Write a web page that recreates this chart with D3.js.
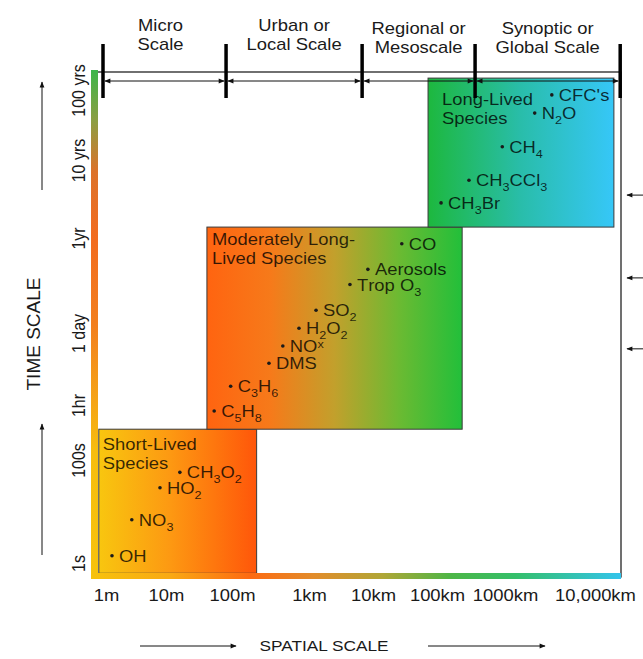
<!DOCTYPE html>
<html>
<head>
<meta charset="utf-8">
<script src="https://cdn.jsdelivr.net/npm/d3@7"></script>
<style>
  body { margin: 0; background: #fff; }
  text { font-family: "Liberation Sans", Arial, sans-serif; }
</style>
</head>
<body>
<svg id="chart" width="643" height="659"></svg>
<script>
// spatial scale in log10(metres), time scale in tick steps
var spaceTicks = ["1m", "10m", "100m", "1km", "10km", "100km", "1000km", "10,000km"];
var timeTicks = ["1s", "100s", "1hr", "1 day", "1yr", "10 yrs", "100 yrs"];

var scaleBands = [
  { name: ["Micro", "Scale"], from: -0.05, to: 1.91 },
  { name: ["Urban or", "Local Scale"], from: 1.91, to: 3.83 },
  { name: ["Regional or", "Mesoscale"], from: 3.83, to: 5.56 },
  { name: ["Synoptic or", "Global Scale"], from: 5.56, to: 7.28 }
];

var groups = [
  { key: "short", title: ["Short-Lived", "Species"], x0: -0.12, x1: 2.32, y0: -0.1, y1: 1.56 },
  { key: "moderate", title: ["Moderately Long-", "Lived Species"], x0: 1.62, x1: 5.37, y0: 1.56, y1: 4.14 },
  { key: "long", title: ["Long-Lived", "Species"], x0: 4.86, x1: 7.21, y0: 4.14, y1: 6.17 }
];

// "_" = subscript, "^" = raised
var species = [
  { label: "OH", x: 0.1, y: 0.07 },
  { label: "NO_3", x: 0.43, y: 0.42 },
  { label: "HO_2", x: 0.9, y: 0.73 },
  { label: "CH_3O_2", x: 1.21, y: 0.88 },
  { label: "C_5H_8", x: 1.73, y: 1.89 },
  { label: "C_3H_6", x: 1.98, y: 2.26 },
  { label: "DMS", x: 2.48, y: 2.58 },
  { label: "NO^x", x: 2.66, y: 2.82 },
  { label: "H_2O_2", x: 2.87, y: 3.05 },
  { label: "SO_2", x: 3.11, y: 3.24 },
  { label: "Trop O_3", x: 3.64, y: 3.51 },
  { label: "Aerosols", x: 3.92, y: 3.67 },
  { label: "CO", x: 4.45, y: 3.94 },
  { label: "CH_3Br", x: 5.06, y: 4.45 },
  { label: "CH_3CCl_3", x: 5.47, y: 4.74 },
  { label: "CH_4", x: 5.96, y: 5.19 },
  { label: "N_2O", x: 6.33, y: 5.67 },
  { label: "CFC's", x: 6.52, y: 5.93 }
];

var sideArrows = [4.55, 3.58, 2.78];

// ---- layout ----
var svg = d3.select("#chart");
var stretch = 1.15;
var frame = { left: 96, right: 621, top: 72, bottom: 577 };
var xStops = [106, 166, 232, 309, 373, 437, 505, 595];
var yStops = [563, 460, 405, 333, 238, 160, 90];

var x = d3.scaleLinear().domain(d3.range(spaceTicks.length)).range(xStops);
var y = d3.scaleLinear().domain(d3.range(timeTicks.length)).range(yStops);

var groupColors = {
  short: [[0, "#f8c60f"], [0.45, "#fd9912"], [1, "#ff560a"]],
  moderate: [[0, "#ff6410"], [0.25, "#f67a1a"], [0.5, "#c2a02c"], [0.75, "#6cba32"], [1, "#22bf3a"]],
  long: [[0, "#1db83e"], [0.5, "#29bdaa"], [1, "#36c7f8"]]
};
var titlePad = { short: [4, 21], moderate: [5, 18], long: [14, 27] };

var defs = svg.append("defs");

function addGradient(id, stops, vertical) {
  var g = defs.append("linearGradient").attr("id", id)
    .attr("x1", 0).attr("y1", 0)
    .attr("x2", vertical ? 0 : 1).attr("y2", vertical ? 1 : 0);
  stops.forEach(function(s) {
    g.append("stop").attr("offset", s[0]).attr("stop-color", s[1]);
  });
}

groups.forEach(function(d) { addGradient("grad-" + d.key, groupColors[d.key], false); });
addGradient("grad-left", [[0, "#3db54a"], [0.1, "#8c9e42"], [0.2, "#dc722a"], [0.33, "#f26c1f"],
  [0.5, "#f27f1e"], [0.65, "#f5a417"], [0.75, "#f6bd0e"], [1, "#f7c20c"]], true);
addGradient("grad-bottom", [[0, "#f7c20c"], [0.15, "#f9a914"], [0.3, "#fd6a12"], [0.42, "#e28c2a"],
  [0.55, "#b0a636"], [0.68, "#4cb646"], [0.8, "#34bf6a"], [1, "#33c4ec"]], false);

defs.append("marker").attr("id", "head")
  .attr("viewBox", "0 0 10 10").attr("refX", 9).attr("refY", 5)
  .attr("markerWidth", 7).attr("markerHeight", 6)
  .attr("markerUnits", "userSpaceOnUse")
  .attr("orient", "auto-start-reverse")
  .append("path").attr("d", "M0,1 L10,5 L0,9 Z").attr("fill", "#111");

// text with the wide look of the original
function wideText(parent, px, py, str, size) {
  return parent.append("text")
    .attr("transform", "translate(" + px + "," + py + ") scale(" + stretch + ",1)")
    .attr("font-size", size)
    .text(str);
}

function chemText(parent, px, py, str) {
  var t = parent.append("text")
    .attr("transform", "translate(" + px + "," + py + ") scale(" + stretch + ",1)")
    .attr("font-size", 16)
    .attr("fill", "#000")
    .attr("fill-opacity", 0.78);
  var level = 0;
  for (var i = 0; i < str.length; i++) {
    var ch = str[i], kind = 0;
    if (ch === "_" || ch === "^") {
      kind = ch === "_" ? 5 : -4;
      i++;
      ch = str[i];
    }
    t.append("tspan")
      .attr("dy", kind - level)
      .attr("font-size", kind ? 11 : 16)
      .text(ch);
    level = kind;
  }
  return t;
}

// plot frame
svg.append("rect")
  .attr("x", frame.left).attr("y", frame.top)
  .attr("width", frame.right - frame.left)
  .attr("height", frame.bottom - frame.top)
  .attr("fill", "#fff").attr("stroke", "#111").attr("stroke-width", 1.2);

// species group boxes
var box = svg.selectAll(".group").data(groups).enter()
  .append("g").attr("class", "group");

box.append("rect")
  .attr("x", function(d) { return x(d.x0); })
  .attr("y", function(d) { return y(d.y1); })
  .attr("width", function(d) { return x(d.x1) - x(d.x0); })
  .attr("height", function(d) { return y(d.y0) - y(d.y1); })
  .attr("fill", function(d) { return "url(#grad-" + d.key + ")"; })
  .attr("stroke", "#3a3a3a").attr("stroke-width", 1);

box.each(function(d) {
  var g = d3.select(this);
  var pad = titlePad[d.key];
  d.title.forEach(function(line, i) {
    wideText(g, x(d.x0) + pad[0], y(d.y1) + pad[1] + i * 19, line, 16)
      .attr("fill", "#000").attr("fill-opacity", 0.78);
  });
});

// species dots and names
var sp = svg.selectAll(".species").data(species).enter()
  .append("g").attr("class", "species");

sp.append("circle")
  .attr("cx", function(d) { return x(d.x); })
  .attr("cy", function(d) { return y(d.y); })
  .attr("r", 1.8)
  .attr("fill", "#1a1a1a");

sp.each(function(d) {
  chemText(d3.select(this), x(d.x) + 7, y(d.y) + 6, d.label);
});

// colour bars along the left and bottom edges
svg.append("rect")
  .attr("x", 91).attr("y", frame.top - 2)
  .attr("width", 7).attr("height", frame.bottom - frame.top + 4)
  .attr("fill", "url(#grad-left)");

svg.append("rect")
  .attr("x", 91).attr("y", frame.bottom - 4)
  .attr("width", frame.right - 91).attr("height", 6)
  .attr("fill", "url(#grad-bottom)");

// spatial scale bands along the top
var bandTicks = [scaleBands[0].from].concat(scaleBands.map(function(d) { return d.to; }));

svg.selectAll(".band-tick").data(bandTicks).enter()
  .append("line").attr("class", "band-tick")
  .attr("x1", function(d) { return x(d); })
  .attr("x2", function(d) { return x(d); })
  .attr("y1", 44).attr("y2", 98)
  .attr("stroke", "#000").attr("stroke-width", 3.5);

svg.selectAll(".band-arrow").data(scaleBands).enter()
  .append("line").attr("class", "band-arrow")
  .attr("x1", function(d) { return x(d.from) + 2; })
  .attr("x2", function(d) { return x(d.to) - 2; })
  .attr("y1", 81).attr("y2", 81)
  .attr("stroke", "#111").attr("stroke-width", 1)
  .attr("marker-start", "url(#head)")
  .attr("marker-end", "url(#head)");

scaleBands.forEach(function(d, i) {
  var cx = (x(d.from) + x(d.to)) / 2 - (i === 0 ? 4 : 0);
  var drop = i > 1 ? 3 : 0;
  d.name.forEach(function(line, j) {
    wideText(svg, cx, 31 + drop + j * 19, line, 16)
      .attr("text-anchor", "middle").attr("fill", "#1a1a1a");
  });
});

// axes
var xAxis = d3.axisBottom(x)
  .tickValues(d3.range(spaceTicks.length))
  .tickFormat(function(i) { return spaceTicks[i]; })
  .tickSize(0).tickPadding(0);

var gx = svg.append("g").attr("transform", "translate(0,601)").call(xAxis);
gx.select(".domain").remove();
gx.selectAll("text")
  .attr("y", 0).attr("dy", 0)
  .attr("font-size", 16).attr("fill", "#1a1a1a")
  .attr("font-family", "Liberation Sans, Arial, sans-serif")
  .attr("transform", "scale(" + stretch + ",1)");

var yAxis = d3.axisLeft(y)
  .tickValues(d3.range(timeTicks.length))
  .tickFormat(function(i) { return timeTicks[i]; })
  .tickSize(0);

var gy = svg.append("g").attr("transform", "translate(85,0)").call(yAxis);
gy.select(".domain").remove();
gy.selectAll("text")
  .attr("x", 0).attr("y", 0).attr("dy", 0)
  .attr("text-anchor", "middle")
  .attr("font-size", 16).attr("fill", "#1a1a1a")
  .attr("font-family", "Liberation Sans, Arial, sans-serif")
  .attr("transform", "scale(" + stretch + ",1) rotate(-90)");

// axis titles and their arrows
wideText(svg, 324, 651, "SPATIAL SCALE", 15).attr("text-anchor", "middle").attr("fill", "#1a1a1a");
svg.append("text")
  .attr("transform", "translate(40,334) rotate(-90)")
  .attr("text-anchor", "middle").attr("font-size", 19).attr("fill", "#1a1a1a")
  .text("TIME SCALE");

var titleArrows = [
  [140, 646, 236, 646], [428, 646, 545, 646],
  [42, 190, 42, 82], [42, 555, 42, 424]
];
svg.selectAll(".title-arrow").data(titleArrows).enter()
  .append("line").attr("class", "title-arrow")
  .attr("x1", function(d) { return d[0]; }).attr("y1", function(d) { return d[1]; })
  .attr("x2", function(d) { return d[2]; }).attr("y2", function(d) { return d[3]; })
  .attr("stroke", "#111").attr("stroke-width", 1)
  .attr("marker-end", "url(#head)");

// arrows at the right edge
svg.selectAll(".side-arrow").data(sideArrows).enter()
  .append("line").attr("class", "side-arrow")
  .attr("x1", 643).attr("x2", 627)
  .attr("y1", function(d) { return y(d); })
  .attr("y2", function(d) { return y(d); })
  .attr("stroke", "#111").attr("stroke-width", 1)
  .attr("marker-end", "url(#head)");
</script>
</body>
</html>
